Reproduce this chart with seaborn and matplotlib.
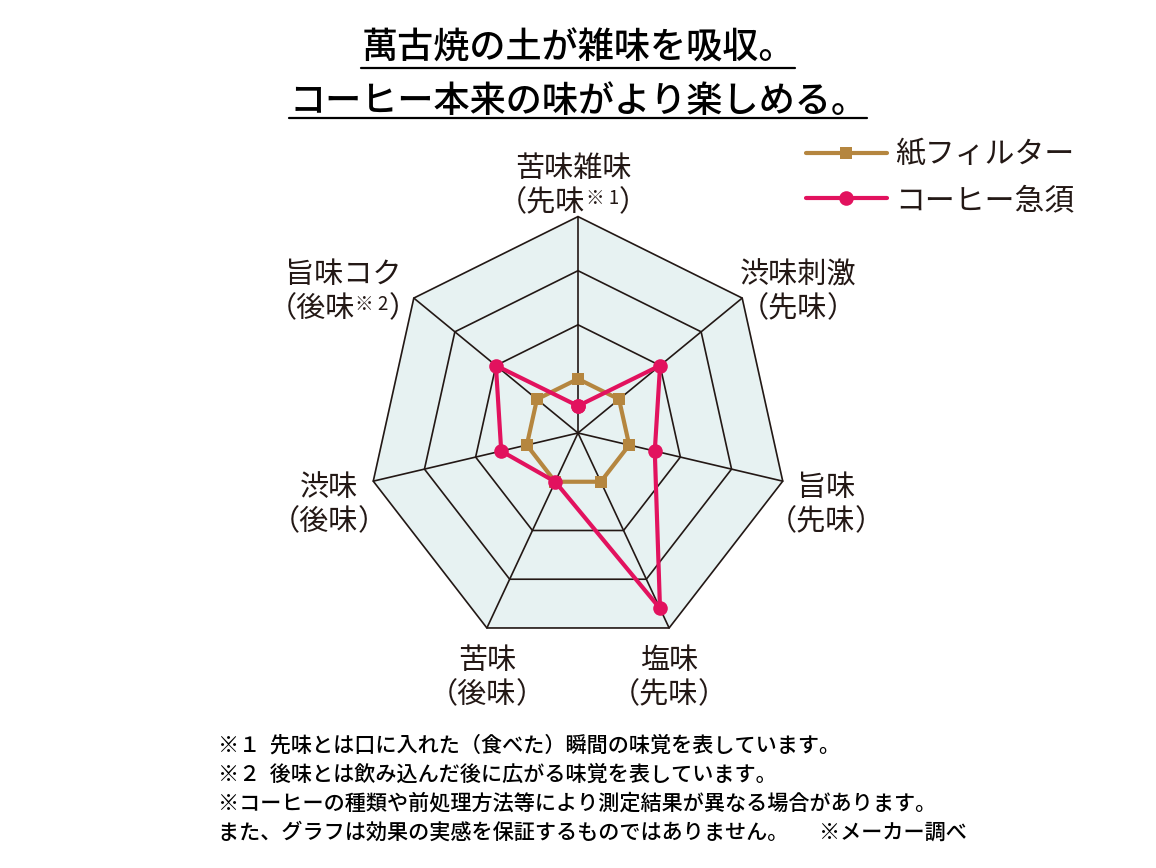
import numpy as np
import pandas as pd
import matplotlib
matplotlib.use("Agg")
import matplotlib.pyplot as plt
import seaborn as sns
from matplotlib.lines import Line2D
from matplotlib.offsetbox import TextArea, HPacker, AnnotationBbox

sns.set_theme(style="white")
plt.rcParams["font.family"] = ["Noto Sans CJK JP", "DejaVu Sans"]

# ---- data ----
axis_names = ["苦味雑味", "渋味刺激", "旨味", "塩味", "苦味", "渋味", "旨味コク"]
axis_notes = ["先味", "先味", "先味", "先味", "後味", "後味", "後味"]
axis_marks = ["※ 1", "", "", "", "", "", "※ 2"]
series_names = ["紙フィルター", "コーヒー急須"]
paper_filter = [1, 1, 1, 1, 1, 1, 1]
kyusu = [0.5, 2, 1.5, 3.6, 1, 1.5, 2]
levels = [1, 2, 3, 4]

title_lines = ["萬古焼の土が雑味を吸収。", "コーヒー本来の味がより楽しめる。"]
notes = [
    "※１  先味とは口に入れた（食べた）瞬間の味覚を表しています。",
    "※２  後味とは飲み込んだ後に広がる味覚を表しています。",
    "※コーヒーの種類や前処理方法等により測定結果が異なる場合があります。",
    "また、グラフは効果の実感を保証するものではありません。　  ※メーカー調べ",
]

TAN = "#B5863F"
PINK = "#E2125E"
INK = "#231815"
FILL = "#E7F2F2"

W, H = 1156, 868
fig = plt.figure(figsize=(W / 100, H / 100), dpi=100)
fig.patch.set_facecolor("white")


def fx(x):
    return x / W


def fy(y):
    return 1 - y / H


# radar axes, centre ~ (578, 433) px
cx, cy, ux, uy, lim = 578, 433, 52.5, 54.1, 5.6
ax = fig.add_axes([fx(cx - lim * ux), fy(cy + lim * uy), 2 * lim * ux / W, 2 * lim * uy / H])
ax.set_xlim(-lim, lim)
ax.set_ylim(-lim, lim)
ax.axis("off")

n = len(axis_names)
angles = np.pi / 2 - 2 * np.pi * np.arange(n) / n
ca = np.append(np.cos(angles), np.cos(angles[0]))
sa = np.append(np.sin(angles), np.sin(angles[0]))

# background + rings + spokes
ax.fill(levels[-1] * ca, levels[-1] * sa, color=FILL, zorder=0)
for lv in levels:
    ax.plot(lv * ca, lv * sa, color=INK, lw=1.2, zorder=1)
for c, s in zip(ca[:-1], sa[:-1]):
    ax.plot([0, levels[-1] * c], [0, levels[-1] * s], color=INK, lw=1.2, zorder=1)

# series
rows = []
for name, vals in zip(series_names, [paper_filter, kyusu]):
    v = np.array(vals + vals[:1], dtype=float)
    for i in range(len(v)):
        rows.append({"series": name, "order": i, "x": v[i] * ca[i], "y": v[i] * sa[i]})
df = pd.DataFrame(rows)

sns.lineplot(
    data=df, x="x", y="y", hue="series", style="series",
    hue_order=series_names, style_order=series_names,
    palette=[TAN, PINK], markers=["s", "o"], dashes=False,
    sort=False, estimator=None, lw=3, markeredgewidth=0, ax=ax, zorder=3,
)
for line in ax.get_lines():
    if line.get_marker() == "s":
        line.set_markersize(9)
    elif line.get_marker() == "o":
        line.set_markersize(10.5)

sns.move_legend(
    ax, "upper left", bbox_to_anchor=(fx(806), fy(139)), bbox_transform=fig.transFigure,
    frameon=False, title="", fontsize=21.5, handlelength=2.7, handletextpad=0.3,
    labelspacing=0.5, borderpad=0, borderaxespad=0,
)
leg = ax.get_legend()
for h in leg.get_lines():
    h.set_linewidth(3)
    h.set_markeredgewidth(0)
    h.set_markersize(9 if h.get_marker() == "s" else 10.5)
for t in leg.get_texts():
    t.set_color(INK)

# axis labels (line 1 centre positions, px)
label_pos = [(573, 169), (798, 275), (826, 488), (669, 661), (487, 661), (329, 488), (343, 275)]
for name, note, mark, (x, y) in zip(axis_names, axis_notes, axis_marks, label_pos):
    fig.text(fx(x), fy(y), name, ha="center", va="center", fontsize=21, color=INK)
    parts = [TextArea("（" + note, textprops=dict(fontsize=21, color=INK))]
    if mark:
        parts.append(TextArea(mark, textprops=dict(fontsize=13.5, color=INK)))
    parts.append(TextArea("）", textprops=dict(fontsize=21, color=INK)))
    box = HPacker(children=parts, align="top", pad=0, sep=0)
    fig.add_artist(AnnotationBbox(box, (fx(x), fy(y + 34)), xycoords="figure fraction",
                                  frameon=False, box_alignment=(0.5, 0.5), pad=0))

# title with underlines
title_y = [49, 102]
under_y = [68, 118]
title_texts = []
for txt, y in zip(title_lines, title_y):
    title_texts.append(fig.text(fx(578), fy(y), txt, ha="center", va="center",
                                fontsize=26, fontweight="medium", color="black"))

# footnotes
for i, txt in enumerate(notes):
    fig.text(fx(218), fy(746 + 29 * i), txt, ha="left", va="center",
             fontsize=15.2, fontweight="medium", color="black")

fig.canvas.draw()
for t, y in zip(title_texts, under_y):
    bb = t.get_window_extent()
    fig.add_artist(Line2D([bb.x0 / W, bb.x1 / W], [fy(y), fy(y)], transform=fig.transFigure,
                          color="black", lw=1.6))

fig.savefig("out.png", dpi=100)
